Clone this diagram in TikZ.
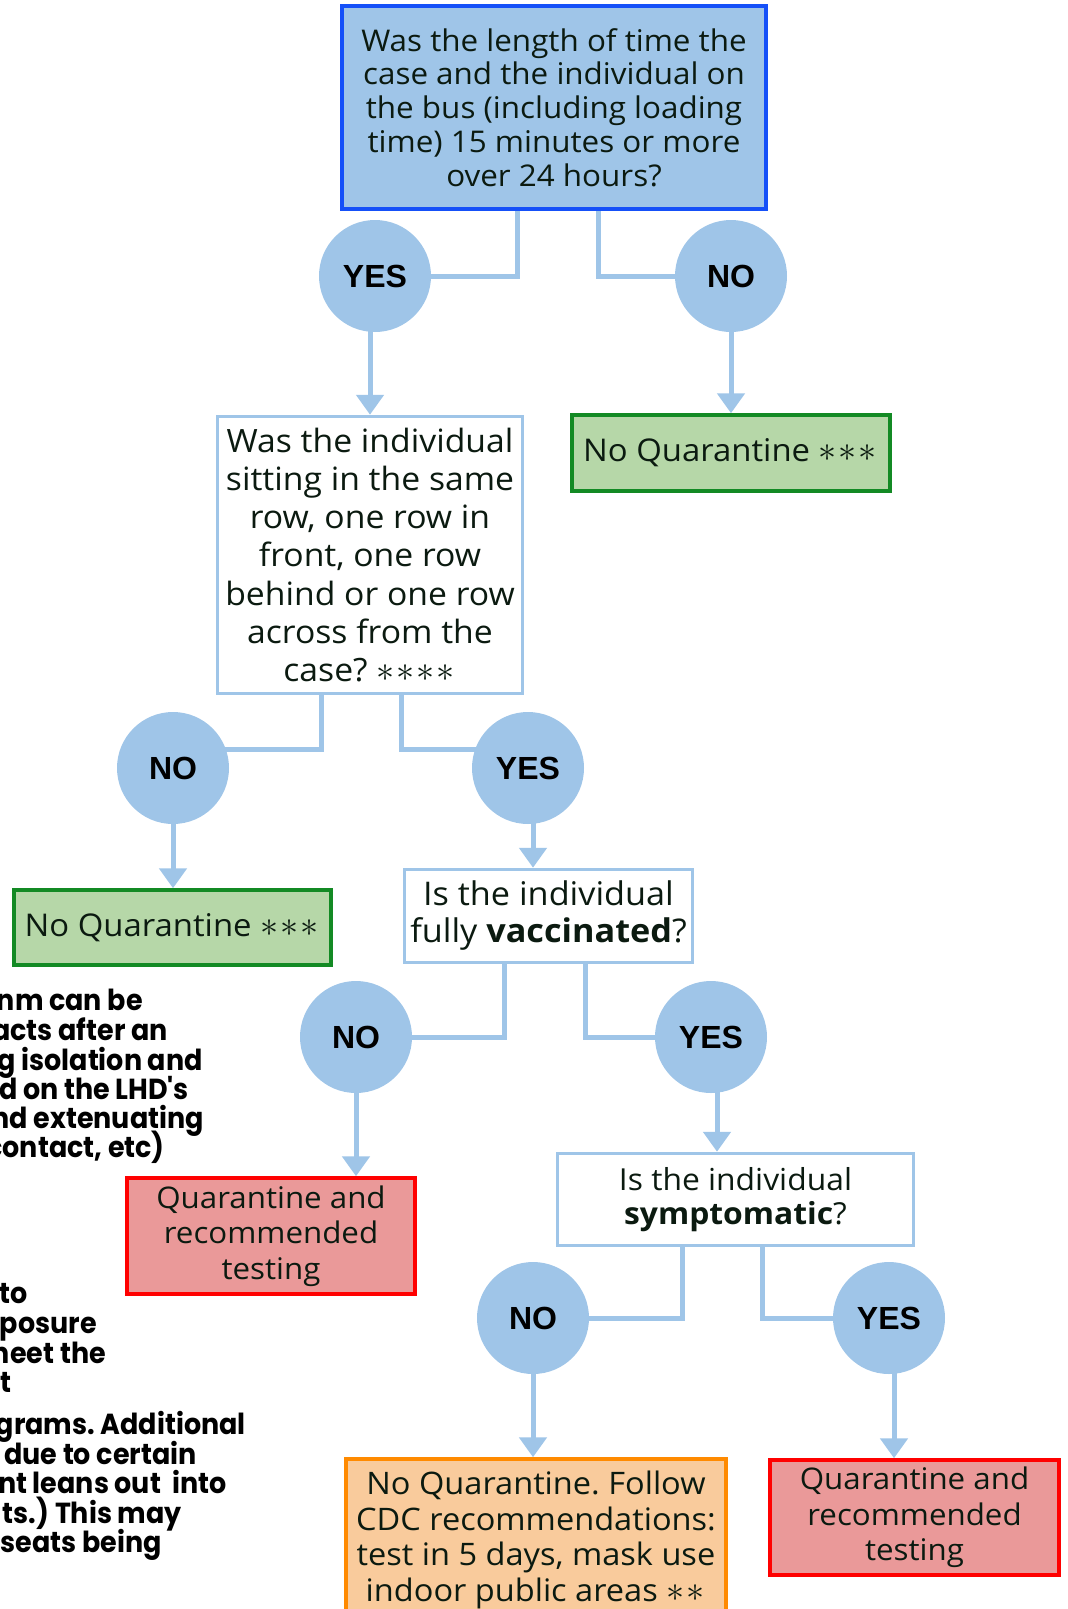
\documentclass[tikz,border=0pt]{standalone}
\usepackage{fontspec}
\setmainfont{Open Sans}[FakeStretch=1.05]
\newfontfamily\yesfont{Liberation Sans}
\newfontfamily\notefont{Poppins}[FakeStretch=0.93]
\usetikzlibrary{arrows.meta,calc}
\definecolor{lb}{HTML}{9FC5E8}
\definecolor{topblue}{HTML}{1550F8}
\definecolor{gfill}{HTML}{B6D7A8}
\definecolor{gline}{HTML}{138A24}
\definecolor{rfill}{HTML}{EA9999}
\definecolor{rline}{HTML}{FF0000}
\definecolor{ofill}{HTML}{F9CB9C}
\definecolor{oline}{HTML}{FF8A00}
\definecolor{txt}{HTML}{0B1A10}
\newcommand\starsym{\scalebox{1.45}{$\ast$}\kern2pt}
\pgfdeclarelayer{bg}
\pgfsetlayers{bg,main}
\frenchspacing
\begin{document}
\begin{tikzpicture}[x=1pt,y=-1pt,
  conn/.style={draw=lb, line width=5pt},
  arr/.style={conn, -{Triangle[width=27pt,length=20pt]}},
  circ/.style={circle, fill=lb, minimum size=112pt, inner sep=0pt, text=black, font=\yesfont\bfseries\fontsize{32}{36}\selectfont},
  box/.style={rectangle, inner sep=0pt, align=center, text=txt, font=\fontsize{30}{35}\selectfont},
  topbox/.style={box, fill=lb, draw=topblue, line width=4pt, font=\fontsize{29.9}{33.8}\selectfont},
  qbox/.style={box, fill=white, draw=lb, line width=3.5pt},
  greenbox/.style={box, fill=gfill, draw=gline, line width=3.5pt, font=\fontsize{31.3}{35}\selectfont},
  redbox/.style={box, fill=rfill, draw=rline, line width=3.5pt, font=\fontsize{29.8}{35.3}\selectfont},
  orangebox/.style={box, fill=ofill, draw=oline, line width=3.5pt, font=\fontsize{31}{35.6}\selectfont},
  note/.style={anchor=base east, inner sep=0pt, text=black, font=\notefont\bfseries\fontsize{29}{29}\selectfont}
]
\useasboundingbox (0,0) rectangle (1068,1609);

% question 1
\node[topbox, minimum width=424pt, minimum height=203pt] (q1) at (554,107.5)
  {Was the length of time the\\case and the individual on\\the bus (including loading\\time) 15 minutes or more\\over 24 hours?};
\node[circ] (y1) at (375,276) {YES};
\node[circ] (n1) at (731,276) {NO};
\node[qbox, minimum width=305pt, minimum height=277pt, font=\fontsize{32.1}{38.3}\selectfont] (q2) at (370,555)
  {Was the individual\\sitting in the same\\row, one row in\\front, one row\\behind or one row\\across from the\\case? \starsym\starsym\starsym\starsym};
\node[greenbox, minimum width=318pt, minimum height=76pt] (g1) at (731,453) {No Quarantine \starsym\starsym\starsym};

\node[circ] (n2) at (173,768) {NO};
\node[circ] (y2) at (528,768) {YES};
\node[greenbox, minimum width=317pt, minimum height=75pt] (g2) at (172.5,927.5) {No Quarantine \starsym\starsym\starsym};
\node[qbox, minimum width=288pt, minimum height=93pt, font=\fontsize{32.6}{37}\selectfont] (q3) at (548.5,916)
  {Is the individual\\fully \textbf{vaccinated}?};

\node[circ] (n3) at (356,1037) {NO};
\node[circ] (y3) at (711,1037) {YES};
\node[redbox, minimum width=288pt, minimum height=116pt] (r1) at (271,1236) {Quarantine and\\recommended\\testing};
\node[qbox, minimum width=356pt, minimum height=92pt, font=\fontsize{30.3}{34}\selectfont] (q4) at (735.5,1199.5)
  {Is the individual\\\textbf{symptomatic}?};

\node[circ] (n4) at (533,1318) {NO};
\node[circ] (y4) at (889,1318) {YES};
\node[orangebox, minimum width=380pt, minimum height=162pt] (o1) at (536,1540)
  {No Quarantine. Follow\\CDC recommendations:\\test in 5 days, mask use\\indoor public areas \starsym\starsym};
\node[redbox, minimum width=289pt, minimum height=115pt] (r2) at (914.5,1517.5) {Quarantine and\\recommended\\testing};

\coordinate (y2a) at ([xshift=5pt]y2.center);
\coordinate (y3a) at ([xshift=6pt]y3.center);
\coordinate (y4a) at ([xshift=5pt]y4.center);

\begin{pgfonlayer}{bg}
\fill[white] (0,0) rectangle (1068,1609);
\draw[conn] ([xshift=-37pt]q1.south) |- (y1);
\draw[conn] ([xshift=44pt]q1.south) |- (n1);
\draw[arr] (q2.north |- y1) -- (q2.north);
\draw[arr] (n1) -- (n1 |- g1.north);
\draw[conn] ([xshift=-49pt]q2.south) |- ([yshift=19pt]n2.center);
\draw[conn] ([xshift=31pt]q2.south) |- ([yshift=19pt]y2.center);
\draw[arr] (n2) -- (n2 |- g2.north);
\draw[arr] (y2a) -- (y2a |- q3.north);
\draw[conn] ([xshift=-44.5pt]q3.south) |- (n3);
\draw[conn] ([xshift=36.5pt]q3.south) |- (y3);
\draw[arr] (n3) -- (n3 |- r1.north);
\draw[arr] (y3a) -- (y3a |- q4.north);
\draw[conn] ([xshift=-53.5pt]q4.south) |- (n4);
\draw[conn] ([xshift=26.5pt]q4.south) |- (y4);
\draw[arr] (n4) -- (n4 |- o1.north);
\draw[arr] (y4a) -- (y4a |- r2.north);
\end{pgfonlayer}

% cut-off notes on the left
\node[note] (t1) at (143,1010) {nm can be};
\node[note] (t2) at (168,1040) {acts after an};
\node[note] (t3) at (203,1070) {g isolation and};
\node[note, anchor=base west] (t4) at (-1,1099) {d on the LHD's};
\node[note] (t5) at (204,1128) {nd extenuating};
\node[note] (t6) at (165,1157) {contact, etc)};
\node[note] (t7) at (28,1303) {to};
\node[note] (t8) at (97,1333) {posure};
\node[note] (t9) at (106,1363) {neet the};
\node[note] (t10) at (12,1392) {t};
\node[note] (t11) at (246,1434) {grams. Additional};
\node[note, anchor=base west] (t12) at (4,1464) {due to certain};
\node[note] (t13) at (227,1493) {nt leans out\ \ into};
\node[note] (t14) at (182,1523) {ts.) This may};
\node[note] (t15) at (162,1552) {seats being};
\end{tikzpicture}
\end{document}
